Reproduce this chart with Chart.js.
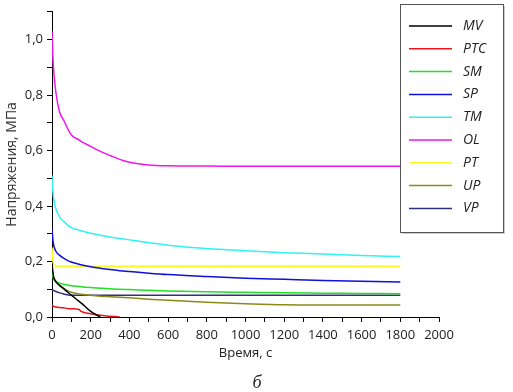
<!DOCTYPE html>
<html>
<head>
<meta charset="utf-8">
<script src="https://cdn.jsdelivr.net/npm/chart.js@4/dist/chart.umd.min.js"></script>
<style>
  html, body { margin: 0; padding: 0; background: #fff; }
  canvas { display: block; }
</style>
</head>
<body>
<canvas id="chart" width="513" height="392"></canvas>
<script>
// Time grid, s
const times = [0, 5, 10, 20, 40, 60, 80, 100, 140, 150, 200, 250, 300, 350, 400, 500, 600, 800, 1000, 1200, 1400, 1600, 1800];

// Stress, MPa (null = curve has ended)
const mvValues  = [0.19, 0.16, 0.14, 0.127, 0.113, 0.102, 0.09, 0.079, 0.056, 0.051, 0.02, 0, null, null, null, null, null, null, null, null, null, null, null];
const ptcValues = [0.042, 0.04, 0.038, 0.036, 0.034, 0.033, 0.031, 0.03, 0.027, 0.02, 0.012, 0.006, 0.003, 0, null, null, null, null, null, null, null, null, null];
const smValues  = [0.17, 0.145, 0.135, 0.128, 0.122, 0.118, 0.115, 0.113, 0.11, 0.109, 0.106, 0.104, 0.102, 0.1, 0.099, 0.096, 0.094, 0.091, 0.089, 0.087, 0.086, 0.085, 0.084];
const spValues  = [0.32, 0.275, 0.255, 0.237, 0.222, 0.212, 0.204, 0.198, 0.19, 0.188, 0.181, 0.176, 0.171, 0.167, 0.164, 0.158, 0.153, 0.146, 0.14, 0.136, 0.132, 0.129, 0.126];
const tmValues  = [0.51, 0.45, 0.42, 0.39, 0.36, 0.345, 0.332, 0.322, 0.313, 0.311, 0.302, 0.295, 0.288, 0.283, 0.278, 0.268, 0.259, 0.247, 0.239, 0.232, 0.227, 0.222, 0.218];
const olValues  = [1.03, 0.93, 0.875, 0.81, 0.737, 0.71, 0.68, 0.656, 0.638, 0.633, 0.615, 0.597, 0.582, 0.568, 0.558, 0.548, 0.545, 0.544, 0.543, 0.543, 0.543, 0.543, 0.543];
const ptValues  = [0.25, 0.2, 0.188, 0.184, 0.183, 0.183, 0.183, 0.183, 0.183, 0.183, 0.183, 0.183, 0.183, 0.183, 0.183, 0.183, 0.183, 0.183, 0.183, 0.183, 0.183, 0.183, 0.183];
const upValues  = [0.17, 0.15, 0.14, 0.13, 0.115, 0.103, 0.095, 0.089, 0.083, 0.082, 0.078, 0.075, 0.073, 0.071, 0.069, 0.064, 0.06, 0.053, 0.048, 0.044, 0.043, 0.043, 0.043];
const vpValues  = [0.1, 0.097, 0.095, 0.092, 0.087, 0.083, 0.08, 0.078, 0.078, 0.078, 0.078, 0.078, 0.078, 0.078, 0.078, 0.078, 0.078, 0.078, 0.078, 0.078, 0.078, 0.078, 0.078];

const seriesNames  = ["MV", "PTC", "SM", "SP", "TM", "OL", "PT", "UP", "VP"];
const seriesValues = [mvValues, ptcValues, smValues, spValues, tmValues, olValues, ptValues, upValues, vpValues];
const seriesColors = ["#000000", "#e8161b", "#22e022", "#1010d8", "#30f2f2", "#ee18ee", "#f8f820", "#8a8a1a", "#30307e"];

const fontFamily = "'Open Sans', 'DejaVu Sans', sans-serif";

// Legend box in the top right corner + the "б" caption under the chart
const extrasPlugin = {
    id: "extras",
    afterDraw(chart) {
        const ctx = chart.ctx;
        ctx.save();
        // legend frame
        ctx.fillStyle = "#fff";
        ctx.fillRect(400.5, 4.5, 103, 228);
        ctx.strokeStyle = "#555";
        ctx.lineWidth = 1;
        ctx.strokeRect(400.5, 4.5, 103, 228);
        ctx.strokeStyle = "#ccc";
        ctx.beginPath();
        ctx.moveTo(504.5, 6); ctx.lineTo(504.5, 233.5); ctx.lineTo(402, 233.5);
        ctx.stroke();

        ctx.font = "italic 14px " + fontFamily;
        ctx.textBaseline = "middle";
        ctx.textAlign = "left";
        chart.data.datasets.forEach((ds, i) => {
            const y = 26 + i * 22.8;
            ctx.strokeStyle = ds.borderColor;
            ctx.lineWidth = 1.5;
            ctx.beginPath();
            ctx.moveTo(409, y);
            ctx.lineTo(452, y);
            ctx.stroke();
            ctx.fillStyle = "#222";
            ctx.fillText(ds.label, 463, y);
        });

        // panel caption
        ctx.font = "italic 18px 'Liberation Serif', serif";
        ctx.textAlign = "center";
        ctx.fillStyle = "#222";
        ctx.fillText("б", 257, 383);
        ctx.restore();
    }
};

const ctx = document.getElementById("chart").getContext("2d");
new Chart(ctx, {
    type: "line",
    data: {
        labels: times,
        datasets: seriesNames.map((name, i) => ({
            label: name,
            data: times.map((t, j) => ({ x: t, y: seriesValues[i][j] })),
            borderColor: seriesColors[i],
            backgroundColor: seriesColors[i],
            borderWidth: 1.5,
            pointRadius: 0,
            cubicInterpolationMode: "monotone",
            fill: false,
            spanGaps: false
        }))
    },
    options: {
        responsive: false,
        devicePixelRatio: 1,
        animation: false,
        layout: { padding: { left: 0, top: 4, right: 74, bottom: 25 } },
        plugins: {
            legend: { display: false },
            tooltip: { enabled: false }
        },
        scales: {
            x: {
                type: "linear",
                min: 0,
                max: 2000,
                afterFit: (scale) => { scale.height = 50; },
                border: { display: true, color: "#000", width: 1 },
                grid: { drawOnChartArea: false, drawTicks: true, tickLength: 5, color: "#000" },
                ticks: {
                    stepSize: 100,
                    autoSkip: false,
                    maxRotation: 0,
                    padding: 5,
                    color: "#222",
                    font: { family: fontFamily, size: 13 },
                    callback: (v) => (v % 200 === 0 ? String(v) : "")
                },
                title: {
                    display: true,
                    text: "Время, с",
                    color: "#222",
                    padding: { top: 0, bottom: 6 },
                    font: { family: fontFamily, size: 13 }
                }
            },
            y: {
                min: 0,
                max: 1.1,
                afterFit: (scale) => { scale.width = 52; },
                border: { display: true, color: "#000", width: 1 },
                grid: { drawOnChartArea: false, drawTicks: true, tickLength: 5, color: "#000" },
                ticks: {
                    stepSize: 0.1,
                    autoSkip: false,
                    padding: 4,
                    color: "#222",
                    font: { family: fontFamily, size: 13 },
                    callback: (v) => {
                        const n = Math.round(v * 10);
                        return n % 2 === 0 ? (n / 10).toFixed(1).replace(".", ",") : "";
                    }
                },
                title: {
                    display: true,
                    text: "Напряжения, МПа",
                    color: "#333",
                    padding: { top: 4, bottom: 0 },
                    font: { family: fontFamily, size: 14 }
                }
            }
        }
    },
    plugins: [extrasPlugin]
});
</script>
</body>
</html>
